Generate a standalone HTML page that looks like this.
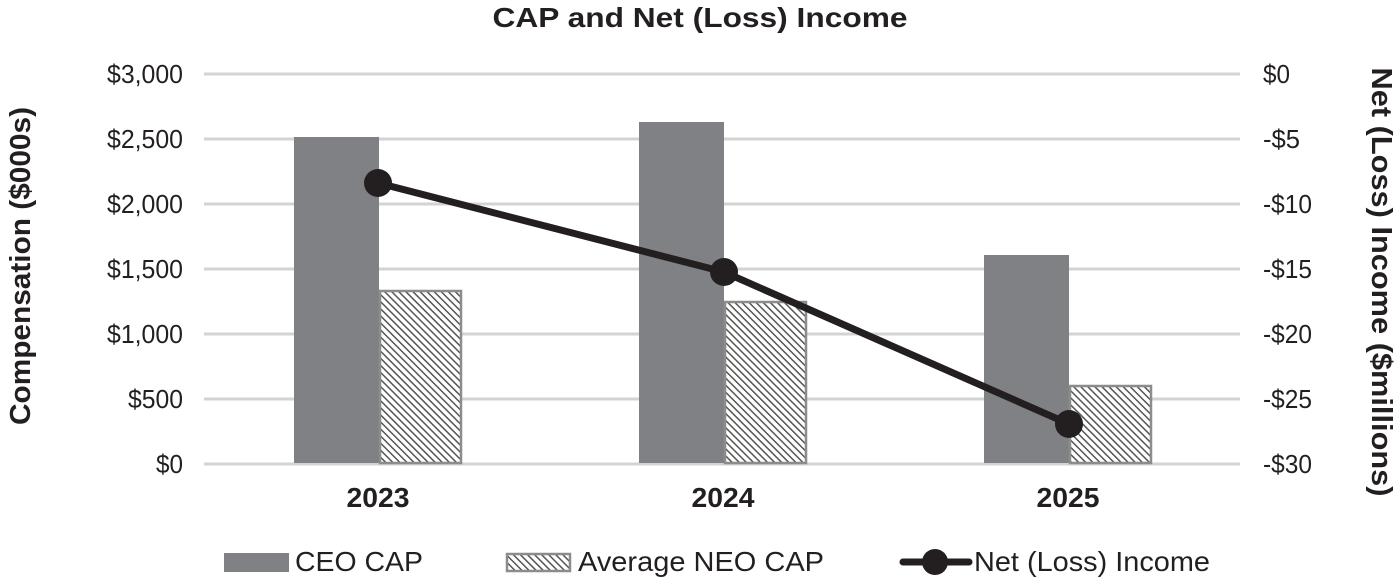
<!DOCTYPE html>
<html>
<head>
<meta charset="utf-8">
<style>
html,body{margin:0;padding:0;background:#fff;}
svg{display:block;}
text{font-family:"Liberation Sans",Arial,sans-serif;fill:#231f20;}
</style>
</head>
<body>
<svg width="1400" height="582" viewBox="0 0 1400 582" xmlns="http://www.w3.org/2000/svg">
  <defs>
    <pattern id="hatch" patternUnits="userSpaceOnUse" width="5" height="5" patternTransform="rotate(-45)">
      <rect x="0" y="0" width="5" height="5" fill="#ffffff"/>
      <rect x="0" y="0" width="1.5" height="5" fill="#555555"/>
    </pattern>
  </defs>

  <!-- Title -->
  <text x="700" y="27" text-anchor="middle" font-size="28" font-weight="bold" textLength="415" lengthAdjust="spacingAndGlyphs">CAP and Net (Loss) Income</text>

  <!-- Gridlines -->
  <g stroke="#d3d3d3" stroke-width="3">
    <line x1="204" y1="74" x2="1240" y2="74"/>
    <line x1="204" y1="139" x2="1240" y2="139"/>
    <line x1="204" y1="204" x2="1240" y2="204"/>
    <line x1="204" y1="269" x2="1240" y2="269"/>
    <line x1="204" y1="334" x2="1240" y2="334"/>
    <line x1="204" y1="399" x2="1240" y2="399"/>
    <line x1="204" y1="464" x2="1240" y2="464"/>
  </g>

  <!-- Left tick labels -->
  <g font-size="26" text-anchor="end">
    <text x="183" y="83" textLength="76" lengthAdjust="spacingAndGlyphs">$3,000</text>
    <text x="183" y="148" textLength="76" lengthAdjust="spacingAndGlyphs">$2,500</text>
    <text x="183" y="213" textLength="76" lengthAdjust="spacingAndGlyphs">$2,000</text>
    <text x="183" y="278" textLength="76" lengthAdjust="spacingAndGlyphs">$1,500</text>
    <text x="183" y="343" textLength="76" lengthAdjust="spacingAndGlyphs">$1,000</text>
    <text x="183" y="408" textLength="55" lengthAdjust="spacingAndGlyphs">$500</text>
    <text x="183" y="473" textLength="27" lengthAdjust="spacingAndGlyphs">$0</text>
  </g>

  <!-- Right tick labels -->
  <g font-size="26" text-anchor="start">
    <text x="1263" y="83" textLength="27" lengthAdjust="spacingAndGlyphs">$0</text>
    <text x="1263" y="148" textLength="37" lengthAdjust="spacingAndGlyphs">-$5</text>
    <text x="1263" y="213" textLength="49" lengthAdjust="spacingAndGlyphs">-$10</text>
    <text x="1263" y="278" textLength="49" lengthAdjust="spacingAndGlyphs">-$15</text>
    <text x="1263" y="343" textLength="49" lengthAdjust="spacingAndGlyphs">-$20</text>
    <text x="1263" y="408" textLength="49" lengthAdjust="spacingAndGlyphs">-$25</text>
    <text x="1263" y="473" textLength="49" lengthAdjust="spacingAndGlyphs">-$30</text>
  </g>

  <!-- Axis titles -->
  <text transform="translate(30,266) rotate(-90)" text-anchor="middle" font-size="29" font-weight="bold" textLength="318" lengthAdjust="spacingAndGlyphs">Compensation ($000s)</text>
  <text transform="translate(1372,282) rotate(90)" text-anchor="middle" font-size="29" font-weight="bold" textLength="429" lengthAdjust="spacingAndGlyphs">Net (Loss) Income ($millions)</text>

  <!-- CEO bars -->
  <g fill="#808184">
    <rect x="294" y="137" width="85" height="326"/>
    <rect x="639" y="122" width="85" height="341"/>
    <rect x="984" y="255" width="85" height="208"/>
  </g>

  <!-- NEO bars -->
  <g fill="url(#hatch)" stroke="#8c8c8c" stroke-width="2.5">
    <rect x="380" y="291" width="81" height="172"/>
    <rect x="725" y="302" width="81" height="161"/>
    <rect x="1070" y="386" width="81" height="77"/>
  </g>

  <!-- Net income line -->
  <polyline points="378,183 724,272 1069,424" fill="none" stroke="#231f20" stroke-width="7" stroke-linejoin="round"/>
  <g fill="#231f20">
    <circle cx="378" cy="183" r="14"/>
    <circle cx="724" cy="272" r="14"/>
    <circle cx="1069" cy="424" r="14"/>
  </g>

  <!-- Year labels -->
  <g font-size="28" font-weight="bold" text-anchor="middle">
    <text x="378" y="507" textLength="63" lengthAdjust="spacingAndGlyphs">2023</text>
    <text x="723" y="507" textLength="63" lengthAdjust="spacingAndGlyphs">2024</text>
    <text x="1068" y="507" textLength="63" lengthAdjust="spacingAndGlyphs">2025</text>
  </g>

  <!-- Legend -->
  <rect x="224" y="553" width="65" height="19" fill="#808184"/>
  <text x="295" y="571" font-size="28" textLength="128" lengthAdjust="spacingAndGlyphs">CEO CAP</text>

  <rect x="507" y="554" width="63" height="17" fill="url(#hatch)" stroke="#8c8c8c" stroke-width="2.5"/>
  <text x="578" y="571" font-size="28" textLength="246" lengthAdjust="spacingAndGlyphs">Average NEO CAP</text>

  <line x1="903" y1="562" x2="969" y2="562" stroke="#231f20" stroke-width="7" stroke-linecap="round"/>
  <circle cx="935" cy="562" r="13" fill="#231f20"/>
  <text x="974" y="571" font-size="28" textLength="236" lengthAdjust="spacingAndGlyphs">Net (Loss) Income</text>
</svg>
</body>
</html>
